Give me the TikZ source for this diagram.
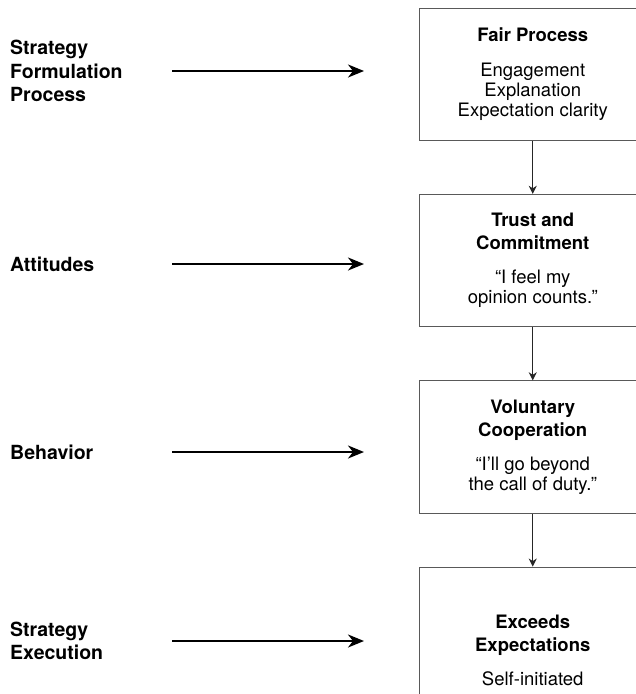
\documentclass[tikz,border=0pt]{standalone}
\usepackage{fontspec}
\setmainfont{TeX Gyre Heros}
\usetikzlibrary{arrows.meta}

\tikzset{
    stage/.style={draw=black!65, line width=0.9pt, inner sep=0pt,
        minimum width=226.5pt, minimum height=132.5pt, align=center,
        font=\fontsize{18.5}{20}\selectfont},
    level/.style={anchor=west, align=left, inner sep=0pt,
        font=\fontsize{19.5}{23.5}\selectfont\bfseries},
    bigarrow/.style={-{Stealth[length=16pt,width=13pt,inset=5pt]}, line width=2.2pt},
    down/.style={-{Stealth[length=8pt,width=8pt,inset=2.5pt]}, draw=black!85, line width=1.3pt}
}

\begin{document}
\begin{tikzpicture}[x=1pt, y=-1pt]
    \useasboundingbox (0, 0) rectangle (636, 694);
    \clip (0, 0) rectangle (636, 694);

    % Stages
    \node[stage] (fair) at (532.75, 74.25)
        {\textbf{Fair Process}\\[15pt]Engagement\\Explanation\\Expectation clarity};
    \node[stage] (trust) at (532.75, 260.5)
        {\textbf{Trust and}\\[3pt]\textbf{Commitment}\\[14pt]“I feel my\\opinion counts.”};
    \node[stage] (coop) at (532.75, 447)
        {\textbf{Voluntary}\\[3pt]\textbf{Cooperation}\\[14pt]“I’ll go beyond\\the call of duty.”};
    \node[stage, minimum height=167pt] (exceed) at (532.75, 650.5)
        {\textbf{Exceeds}\\[3pt]\textbf{Expectations}\\[14pt]Self-initiated};

    \draw[down] (fair) -- (trust);
    \draw[down] (trust) -- (coop);
    \draw[down] (coop) -- (exceed);

    % Levels
    \node[level] (formulation) at (10, 71) {Strategy\\Formulation\\Process};
    \node[level] (attitudes) at (10, 264) {Attitudes};
    \node[level] (behavior) at (10, 452) {Behavior};
    \node[level] (execution) at (10, 641) {Strategy\\Execution};

    % Arrows
    \coordinate (a1) at (172, 71);   \coordinate (b1) at (364, 71);
    \coordinate (a2) at (172, 264);  \coordinate (b2) at (364, 264);
    \coordinate (a3) at (172, 452);  \coordinate (b3) at (364, 452);
    \coordinate (a4) at (172, 641);  \coordinate (b4) at (364, 641);
    \draw[bigarrow] (a1) -- (b1);
    \draw[bigarrow] (a2) -- (b2);
    \draw[bigarrow] (a3) -- (b3);
    \draw[bigarrow] (a4) -- (b4);
\end{tikzpicture}
\end{document}
